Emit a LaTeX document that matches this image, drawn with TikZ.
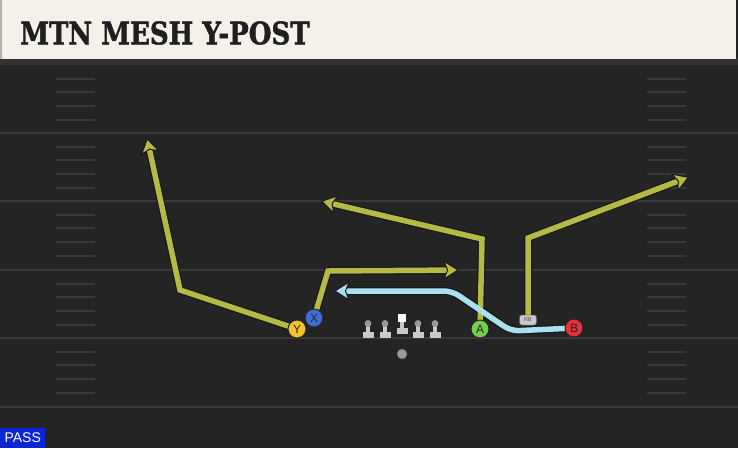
\documentclass[tikz,border=0pt]{standalone}
\usepackage{fontspec}
\setsansfont{Liberation Sans}
\newfontfamily\titlefont{DejaVu Serif}[BoldFeatures={FakeBold=1.6}]
\usetikzlibrary{arrows.meta}
\definecolor{fieldbg}{HTML}{242424}
\definecolor{yardc}{HTML}{393939}
\definecolor{headerc}{HTML}{F4F1EA}
\definecolor{routeyel}{HTML}{B7B947}
\definecolor{routeblue}{HTML}{A9E1EF}
\definecolor{cY}{HTML}{F3C22E}
\definecolor{cX}{HTML}{3F6CD8}
\definecolor{cA}{HTML}{74CF4A}
\definecolor{cB}{HTML}{E2333F}
\definecolor{lmgray}{HTML}{C9C9C9}
\definecolor{lmhead}{HTML}{9A9A9A}
\definecolor{passblue}{HTML}{0B24D6}
\pgfdeclarelayer{field}
\pgfdeclarelayer{routes}
\pgfsetlayers{field,routes,main}
\tikzset{
  yardline/.style={draw=yardc, line width=2pt},
  hash/.style={draw=yardc, line width=1.6pt},
  player/.style={circle, draw=black!85, line width=1pt, minimum size=18pt, inner sep=0pt,
    font=\sffamily\fontsize{12}{12}\selectfont, text=black!85},
  rbtag/.style={rounded corners=2.5pt, fill=lmgray, draw=black!60, line width=0.5pt, minimum width=17pt,
    minimum height=10pt, inner sep=0pt, font=\sffamily\fontsize{5.5}{5.5}\selectfont, text=black!70},
  outline/.style={draw=black!90, line width=8pt, line join=miter, shorten >=6pt},
  yroute/.style={draw=routeyel, line width=5.5pt, line join=miter,
    -{Stealth[length=16pt,width=20pt,inset=4pt,fill=routeyel,color=black!90,line width=1pt]}},
  broute/.style={draw=routeblue, line width=5.5pt, rounded corners=8pt,
    -{Stealth[length=16pt,width=20pt,inset=4pt,fill=routeblue,color=black!90,line width=1pt]}},
  pics/lineman/.style={code={
    \fill[lmgray] (-1.6,-6) rectangle (1.6,3);
    \fill[lmgray] (-5.5,2) rectangle (5.5,7.5);
    \fill[lmhead] (0,-6.5) circle (3.4);
  }},
  pics/center/.style={code={
    \fill[lmgray] (-1.6,-7) rectangle (1.6,1);
    \fill[lmgray] (-5.5,0) rectangle (5.5,5.5);
    \fill[white] (-4.2,-14.5) rectangle (4.2,-6.2);
  }}
}
\begin{document}
\begin{tikzpicture}[x=1pt,y=-1pt]
\useasboundingbox (0,0) rectangle (738,448);
\begin{pgfonlayer}{field}
  \fill[fieldbg] (0,0) rectangle (738,448);
  \foreach \yy in {133,201,270,338,407} \draw[yardline] (0,\yy) -- (738,\yy);
  \foreach \b in {65,133,201,270,338} {
    \foreach \o in {14,27,41,55} {
      \draw[hash] (56,\b+\o) -- (95,\b+\o);
      \draw[hash] (647,\b+\o) -- (686,\b+\o);
    }
  }
  \fill[black!80] (0,58) rectangle (738,65);
  \fill[headerc] (0,0) rectangle (736,59);
  \fill[black!30] (0,0) rectangle (2,59);
\end{pgfonlayer}
\node[anchor=west, inner sep=0pt, text=black!88,
  font=\titlefont\bfseries\fontsize{31}{31}\selectfont] (title) at (20,33) {\scalebox{0.84}[1]{MTN MESH Y-POST}};
% line
\pic at (368,330) {lineman};
\pic at (385,330) {lineman};
\pic at (402,328) {center};
\pic at (418,330) {lineman};
\pic at (435,330) {lineman};
\node[circle, fill=lmhead, draw=black!60, line width=0.5pt, minimum size=10pt, inner sep=0pt] (QB) at (402,354) {};
% players
\node[player, fill=cY] (Y) at (297,329) {Y};
\node[player, fill=cX] (X) at (314,318) {X};
\node[player, fill=cA] (A) at (480,329) {A};
\node[player, fill=cB] (B) at (574,328) {B};
\node[rbtag] (RB) at (528,320) {RB};
\coordinate (y1) at (180,290); \coordinate (y2) at (147,138);
\coordinate (x1) at (328,271); \coordinate (x2) at (459,270);
\coordinate (a1) at (482,239); \coordinate (a2) at (321,201);
\coordinate (r1) at (528,238); \coordinate (r2) at (689,177);
\coordinate (b1) at (511,331); \coordinate (b2) at (452,291); \coordinate (b3) at (334,291);
\begin{pgfonlayer}{routes}
  \draw[outline] (Y.center) -- (y1) -- (y2);
  \draw[outline] (X.center) -- (x1) -- (x2);
  \draw[outline] (A.center) -- (a1) -- (a2);
  \draw[outline] (RB.center) -- (r1) -- (r2);
  \draw[outline, rounded corners=8pt] (B.center) -- (b1) -- (b2) -- (b3);
  \draw[yroute] (Y.center) -- (y1) -- (y2);
  \draw[yroute] (X.center) -- (x1) -- (x2);
  \draw[yroute] (A.center) -- (a1) -- (a2);
  \draw[yroute] (RB.center) -- (r1) -- (r2);
  \draw[broute] (B.center) -- (b1) -- (b2) -- (b3);
\end{pgfonlayer}
\node[fill=passblue, text=white, anchor=south west, minimum width=45pt, minimum height=20pt, inner sep=0pt,
  font=\sffamily\fontsize{14}{14}\selectfont] (pass) at (0,448) {PASS};
\end{tikzpicture}
\end{document}
